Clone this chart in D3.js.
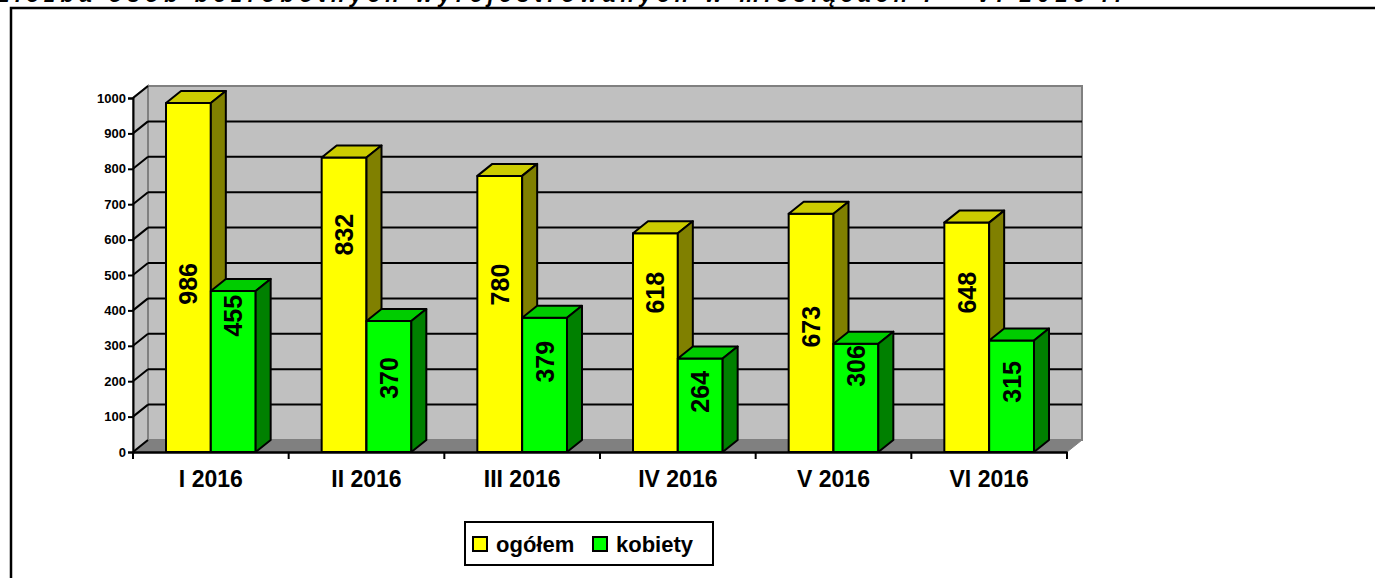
<!DOCTYPE html>
<html>
<head>
<meta charset="utf-8">
<script src="https://cdn.jsdelivr.net/npm/d3@7"></script>
<style>
  body { margin: 0; background: #fff; }
  text { font-family: Arial, "Liberation Sans", sans-serif; font-weight: bold; }
</style>
</head>
<body>
<div id="chart-area"></div>
<script>
// data
const months = ["I 2016", "II 2016", "III 2016", "IV 2016", "V 2016", "VI 2016"];
const seriesNames = ["ogółem", "kobiety"];
const ogolem = [986, 832, 780, 618, 673, 648];
const kobiety = [455, 370, 379, 264, 306, 315];
// where the value labels sit, in axis units
const ogolemLabelAt = [475, 614, 473, 450, 354, 450];
const kobietyLabelAt = [385, 209, 255, 170, 243, 198];
const yTicks = [0, 100, 200, 300, 400, 500, 600, 700, 800, 900, 1000];

const W = 1375, H = 578;
const depth = {dx: 15, dy: -12};
const colours = {
  "ogółem": {front: "#ffff00", top: "#cccc00", side: "#808000"},
  "kobiety": {front: "#00ff00", top: "#00cc00", side: "#008000"}
};

const svg = d3.select("#chart-area")
  .append("svg")
  .attr("width", W)
  .attr("height", H);

// title, cut off at the top edge as in the original
svg.append("text")
  .attr("x", -4)
  .attr("y", 2)
  .attr("font-family", "'Liberation Serif', 'Times New Roman', serif")
  .attr("font-style", "italic")
  .attr("font-size", "22px")
  .attr("textLength", 1125)
  .text("Liczba osób bezrobotnych wyrejestrowanych w miesiącach I – VI 2016 r.");

// frame
svg.append("rect")
  .attr("x", 11).attr("y", 8)
  .attr("width", W + 20).attr("height", H + 20)
  .attr("fill", "none")
  .attr("stroke", "#000")
  .attr("stroke-width", 2.5);

const x0 = d3.scaleBand().domain(months).range([133, 1067]);
const bw = x0.bandwidth();
const x1 = d3.scaleBand().domain(seriesNames).range([bw * 0.212, bw * 0.788]);
const y = d3.scaleLinear().domain([0, 1000]).range([452, 98]);

const g = svg.append("g");
const left = x0.range()[0], right = x0.range()[1];
const pts = a => a.map(p => p.join(",")).join(" ");

// back wall
g.append("rect")
  .attr("x", left + depth.dx).attr("y", y(1000) + depth.dy)
  .attr("width", right - left).attr("height", y(0) - y(1000))
  .attr("fill", "#c0c0c0")
  .attr("stroke", "#808080")
  .attr("stroke-width", 2);

// left wall
g.append("polygon")
  .attr("points", pts([[left, y(0)], [left + depth.dx, y(0) + depth.dy],
    [left + depth.dx, y(1000) + depth.dy], [left, y(1000)]]))
  .attr("fill", "#c0c0c0")
  .attr("stroke", "#808080")
  .attr("stroke-width", 2);

// floor
g.append("polygon")
  .attr("points", pts([[left, y(0)], [left + depth.dx, y(0) + depth.dy],
    [right + depth.dx, y(0) + depth.dy], [right, y(0)]]))
  .attr("fill", "#808080")
  .attr("stroke", "#808080")
  .attr("stroke-width", 1);

// grid lines on back and left wall
const grid = yTicks.filter(v => v > 0 && v < 1000);
g.selectAll(".grid-back")
  .data(grid)
  .enter().append("line")
  .attr("x1", left + depth.dx).attr("x2", right + depth.dx)
  .attr("y1", d => y(d) + depth.dy).attr("y2", d => y(d) + depth.dy)
  .attr("stroke", "#000").attr("stroke-width", 2);
g.selectAll(".grid-side")
  .data(yTicks)
  .enter().append("line")
  .attr("x1", left).attr("x2", left + depth.dx)
  .attr("y1", d => y(d)).attr("y2", d => y(d) + depth.dy)
  .attr("stroke", "#000").attr("stroke-width", 2);

// bars
const rows = months.map((m, i) => ({
  month: m,
  vals: [
    {key: "ogółem", v: ogolem[i], at: ogolemLabelAt[i]},
    {key: "kobiety", v: kobiety[i], at: kobietyLabelAt[i]}
  ]
}));

const bars = g.selectAll(".bar")
  .data(rows.flatMap(r => r.vals.map(d => Object.assign({month: r.month}, d))))
  .enter().append("g")
  .attr("class", "bar");

bars.each(function(d) {
  const b = d3.select(this);
  const xa = x0(d.month) + x1(d.key), w = x1.bandwidth();
  const yt = y(d.v), yb = y(0);
  const c = colours[d.key];
  b.append("rect")
    .attr("x", xa).attr("y", yt).attr("width", w).attr("height", yb - yt)
    .attr("fill", c.front).attr("stroke", "#000").attr("stroke-width", 2)
    .attr("stroke-linejoin", "round");
  b.append("polygon")
    .attr("points", pts([[xa, yt], [xa + depth.dx, yt + depth.dy],
      [xa + w + depth.dx, yt + depth.dy], [xa + w, yt]]))
    .attr("fill", c.top).attr("stroke", "#000").attr("stroke-width", 2)
    .attr("stroke-linejoin", "round");
  b.append("polygon")
    .attr("points", pts([[xa + w, yt], [xa + w + depth.dx, yt + depth.dy],
      [xa + w + depth.dx, yb + depth.dy], [xa + w, yb]]))
    .attr("fill", c.side).attr("stroke", "#000").attr("stroke-width", 2)
    .attr("stroke-linejoin", "round");
  b.append("text")
    .attr("transform", "translate(" + (xa + w / 2 + 9) + "," + y(d.at) + ") rotate(-90)")
    .attr("text-anchor", "middle")
    .attr("font-size", "25px")
    .text(d.v);
});

// y axis
const yAxis = d3.axisLeft(y).tickValues(yTicks).tickFormat(d3.format("d"))
  .tickSize(5).tickPadding(2);
const ya = svg.append("g")
  .attr("transform", "translate(" + left + ",0)")
  .call(yAxis);
ya.select(".domain").attr("stroke", "#000").attr("stroke-width", 2);
ya.selectAll(".tick line").attr("stroke", "#000").attr("stroke-width", 2);
ya.selectAll(".tick text")
  .attr("font-size", "13px")
  .attr("font-family", "Arial, 'Liberation Sans', sans-serif")
  .attr("font-weight", "bold")
  .attr("fill", "#000");

// x axis
const xAxis = d3.axisBottom(x0).tickSize(0).tickPadding(0);
const xa = svg.append("g")
  .attr("transform", "translate(0," + y(0) + ")")
  .call(xAxis);
xa.select(".domain").attr("stroke", "#000").attr("stroke-width", 2.5);
xa.selectAll(".tick text")
  .attr("y", 35)
  .attr("dy", 0)
  .attr("font-size", "23px")
  .attr("font-family", "Arial, 'Liberation Sans', sans-serif")
  .attr("font-weight", "bold")
  .attr("fill", "#000");
// category boundary ticks
xa.selectAll(".sep")
  .data(months.concat(["end"]))
  .enter().append("line")
  .attr("x1", (d, i) => i < months.length ? x0(d) : right)
  .attr("x2", (d, i) => i < months.length ? x0(d) : right)
  .attr("y1", 0).attr("y2", 7)
  .attr("stroke", "#000").attr("stroke-width", 2);

// legend
const lg = svg.append("g").attr("transform", "translate(465,522)");
lg.append("rect")
  .attr("width", 248).attr("height", 43)
  .attr("fill", "#fff").attr("stroke", "#000").attr("stroke-width", 2);
const items = lg.selectAll(".item")
  .data(seriesNames)
  .enter().append("g")
  .attr("transform", (d, i) => "translate(" + (8 + i * 120) + ",0)");
items.append("rect")
  .attr("x", 0).attr("y", 15).attr("width", 14).attr("height", 14)
  .attr("fill", d => colours[d].front)
  .attr("stroke", "#000").attr("stroke-width", 2);
items.append("text")
  .attr("x", 23).attr("y", 30)
  .attr("font-size", "22px")
  .text(d => d);
</script>
</body>
</html>
